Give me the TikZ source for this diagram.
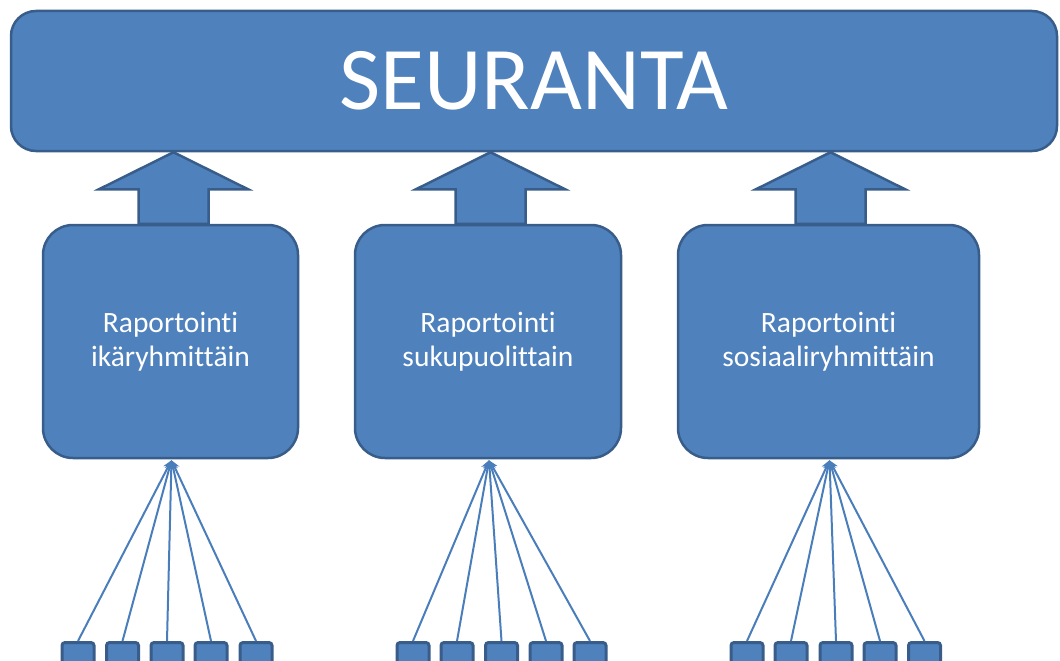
\documentclass[tikz,border=0pt]{standalone}
\usepackage{fontspec}
\setmainfont{Carlito}[Ligatures={NoCommon,NoRare,NoContextual}]
\usetikzlibrary{calc,arrows.meta}
\definecolor{ofill}{HTML}{4F81BD}
\definecolor{oline}{HTML}{385D8A}
\definecolor{fanc}{HTML}{4A7EBB}
\tikzset{
  bigbox/.style={draw=oline,fill=ofill,line width=2.5pt,rounded corners=25pt,minimum width=1046pt,minimum height=140pt,text=white,font=\fontsize{89.5}{92}\selectfont,inner sep=0pt},
  repbox/.style={draw=oline,fill=ofill,line width=2.5pt,rounded corners=30pt,minimum height=233pt,text=white,font=\fontsize{29.5}{34.5}\selectfont,align=center,inner sep=0pt},
  leaf/.style={draw=oline,fill=ofill,line width=3pt,rounded corners=3pt,minimum width=32pt,minimum height=30pt,inner sep=0pt,anchor=north},
  fan/.style={draw=fanc,line width=2pt,-{Stealth[length=9pt,width=9pt]}},
  blockarrow/.style={draw=oline,fill=ofill,line width=2.5pt,line join=miter}
}
\begin{document}
\begin{tikzpicture}[x=1pt,y=-1pt]
\useasboundingbox (0,0) rectangle (1060,661);
\clip (0,0) rectangle (1060,661);
% top box
\node[bigbox] (top) at (534,81) {\raisebox{-3pt}{SEURANTA}};
% report boxes
\node[repbox,minimum width=255pt] (r1) at (170.5,341.5) {\raisebox{-2pt}{Raportointi}\\\raisebox{-2pt}{ikäryhmittäin}};
\node[repbox,minimum width=266pt] (r2) at (488,341.5) {\raisebox{-2pt}{Raportointi}\\\raisebox{-2pt}{sukupuolittain}};
\node[repbox,minimum width=301pt] (r3) at (828.5,341.5) {\raisebox{-2pt}{Raportointi}\\\raisebox{-2pt}{sosiaaliryhmittäin}};
% block arrows
\foreach \r/\dx in {r1/3,r2/2.5,r3/2}{
  \path[blockarrow] let \p1=(\r.north), \p2=(top.south) in
    (\x1+\dx,\y2) -- (\x1+\dx+74.5,\y2-37) -- (\x1+\dx+35,\y2-37) -- (\x1+\dx+35,\y1)
    -- (\x1+\dx-35,\y1) -- (\x1+\dx-35,\y2-37) -- (\x1+\dx-74.5,\y2-37) -- cycle;
}
% leaves
\foreach \g/\xs in {1/{78,122.5,167,211,256},2/{413,457,501.5,546,590},3/{747,791,836,880,924.5}}{
  \foreach \x [count=\i] in \xs {
    \node[leaf] (l\g\i) at (\x,641) {};
  }
}
% fans
\foreach \g in {1,2,3}{
  \foreach \i in {1,...,5}{
    \draw[fan] (l\g\i.north) -- ($(r\g.south)+(1,1)$);
  }
}
\end{tikzpicture}
\end{document}
